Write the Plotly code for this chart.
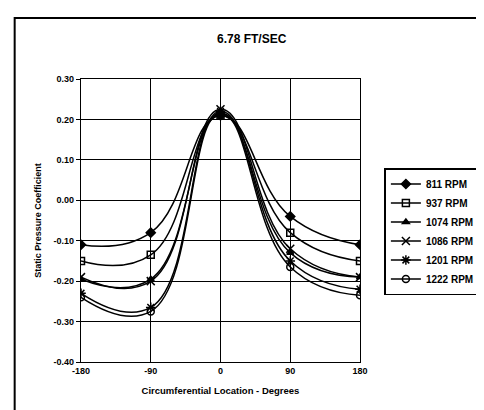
import plotly.graph_objects as go

angles = [-180, -90, 0, 90, 180]
rpm_labels = ["811 RPM", "937 RPM", "1074 RPM", "1086 RPM", "1201 RPM", "1222 RPM"]
cp_811 = [-0.11, -0.08, 0.21, -0.04, -0.11]
cp_937 = [-0.15, -0.135, 0.21, -0.08, -0.15]
cp_1074 = [-0.195, -0.195, 0.215, -0.13, -0.19]
cp_1086 = [-0.19, -0.20, 0.225, -0.12, -0.19]
cp_1201 = [-0.23, -0.265, 0.22, -0.15, -0.22]
cp_1222 = [-0.24, -0.275, 0.215, -0.165, -0.235]
x_ticks = [-180, -90, 0, 90, 180]
y_ticks = [0.30, 0.20, 0.10, 0.00, -0.10, -0.20, -0.30, -0.40]

series = [cp_811, cp_937, cp_1074, cp_1086, cp_1201, cp_1222]
symbols = ["diamond", "square-open", "triangle-up", "x-thin-open", "asterisk-open", "circle-open"]
sizes = [7, 7, 6, 8, 8, 7]

FONT = "Liberation Sans, Arial, sans-serif"
fig = go.Figure()
for name, vals, sym, sz in zip(rpm_labels, series, symbols, sizes):
    fig.add_trace(go.Scatter(
        x=angles, y=vals, name=name, mode="lines+markers",
        line=dict(color="black", width=1.5, shape="spline", smoothing=1.3),
        marker=dict(symbol=sym, size=sz, color="black",
                    line=dict(color="black", width=1.5)),
    ))

W, H = 484, 410
ml, mr, mt, mb = 73, 125, 71, 56
pw, ph = W - ml - mr, H - mt - mb

def px(x):
    return (x - ml) / pw

def py(y):
    return (H - mb - y) / ph

fig.update_layout(
    width=W, height=H,
    margin=dict(l=ml, r=mr, t=mt, b=mb),
    paper_bgcolor="white", plot_bgcolor="white",
    font=dict(family=FONT, color="black", size=9),
    title=dict(text="<b>6.78 FT/SEC</b>", x=px(217), xanchor="center",
               y=1 - 31 / H, yanchor="middle", font=dict(size=12, family=FONT)),
    showlegend=True,
    legend=dict(x=px(384), y=py(160), xanchor="left", yanchor="top",
                bordercolor="black", borderwidth=1.5, bgcolor="white",
                font=dict(size=10, family=FONT, weight="bold"),
                tracegroupgap=0, itemwidth=30),
    xaxis=dict(range=[-180, 180], tickvals=x_ticks,
               ticktext=[str(v) for v in x_ticks],
               showgrid=True, gridcolor="black", gridwidth=1.2,
               zeroline=False, showline=True, linecolor="black", linewidth=1.2,
               mirror=True, ticks="", ticklen=4,
               tickfont=dict(size=9, family=FONT, weight="bold"),
               title=dict(text="<b>Circumferential Location - Degrees</b>",
                          font=dict(size=9.5, family=FONT), standoff=12)),
    yaxis=dict(range=[-0.40, 0.30], tickvals=y_ticks,
               ticktext=["%.2f" % v for v in y_ticks],
               showgrid=True, gridcolor="black", gridwidth=1.2,
               zeroline=False, showline=True, linecolor="black", linewidth=1.2,
               mirror=True, ticks="outside", ticklen=4, tickcolor="black",
               tickfont=dict(size=9, family=FONT, weight="bold"),
               title=dict(text="<b>Static Pressure Coefficient</b>",
                          font=dict(size=9, family=FONT), standoff=10)),
    shapes=[dict(type="rect", xref="paper", yref="paper",
                 x0=px(5), x1=px(495), y0=py(420), y1=py(10),
                 line=dict(color="black", width=2), fillcolor="rgba(0,0,0,0)",
                 layer="below")],
)

fig.write_html("out.html")
